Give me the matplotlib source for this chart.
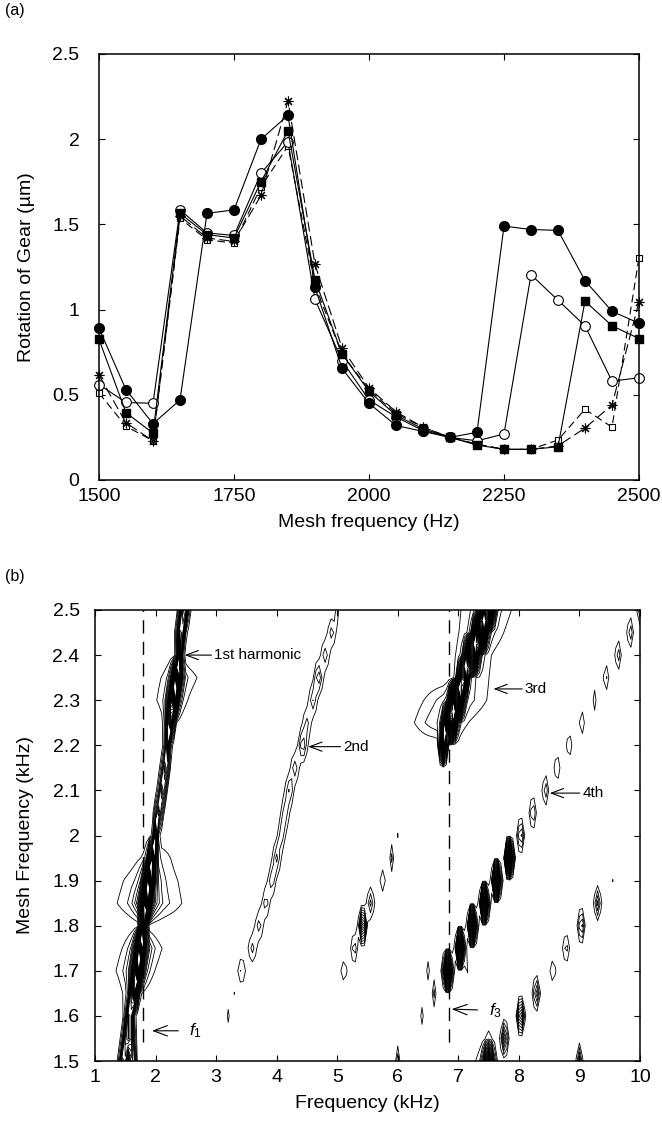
import numpy as np
import matplotlib

matplotlib.use("Agg")
import matplotlib.pyplot as plt
from matplotlib.ticker import FormatStrFormatter

plt.rcParams["font.family"] = ["Liberation Sans", "DejaVu Sans"]
plt.rcParams["mathtext.fontset"] = "custom"
plt.rcParams["mathtext.it"] = "Liberation Sans:italic"
plt.rcParams["mathtext.rm"] = "Liberation Sans"

# ---- (a) gear rotation vs mesh frequency ----
mesh_hz = [1500, 1550, 1600, 1650, 1700, 1750, 1800, 1850, 1900, 1950, 2000,
           2050, 2100, 2150, 2200, 2250, 2300, 2350, 2400, 2450, 2500]
filled_circle = [0.89, 0.53, 0.33, 0.47, 1.565, 1.585, 2.00, 2.14, 1.13, 0.655, 0.45,
                 0.32, 0.285, 0.25, 0.28, 1.49, 1.47, 1.465, 1.17, 0.99, 0.92]
open_circle = [0.56, 0.455, 0.45, 1.585, 1.45, 1.435, 1.80, 1.985, 1.06, 0.70, 0.47,
               0.37, 0.29, 0.25, 0.23, 0.27, 1.205, 1.055, 0.905, 0.58, 0.60]
filled_square = [0.825, 0.395, 0.275, 1.565, 1.44, 1.42, 1.75, 2.05, 1.175, 0.74, 0.52,
                 0.38, 0.30, 0.25, 0.205, 0.18, 0.18, 0.195, 1.05, 0.905, 0.83]
open_square = [0.51, 0.315, 0.23, 1.535, 1.41, 1.39, 1.72, 1.96, 1.14, 0.74, 0.53,
               0.39, 0.31, 0.25, 0.21, 0.18, 0.18, 0.235, 0.415, 0.31, 1.305]
asterisk = [0.615, 0.335, 0.23, 1.55, 1.42, 1.40, 1.67, 2.225, 1.265, 0.775, 0.54,
            0.40, 0.31, 0.25, 0.21, 0.18, 0.18, 0.20, 0.305, 0.44, 1.045]

# ---- (b) spectral peaks: (mesh kHz, frequency kHz, amplitude, width kHz) ----
h1_core = [(1.50, 1.47, 14, .04), (1.50, 1.62, 10, .035), (1.55, 1.52, 14, .04),
           (1.55, 1.60, 10, .035), (1.60, 1.57, 16, .04), (1.65, 1.64, 22, .04),
           (1.70, 1.70, 30, .045), (1.75, 1.75, 30, .045), (1.80, 1.80, 40, .025),
           (1.85, 1.84, 32, .045), (1.90, 1.89, 30, .045), (1.95, 1.94, 22, .04),
           (2.00, 2.00, 14, .025), (2.05, 2.05, 9, .04), (2.10, 2.11, 9, .04),
           (2.15, 2.16, 9, .04), (2.20, 2.20, 11, .03), (2.25, 2.24, 16, .04),
           (2.30, 2.29, 25, .045), (2.35, 2.35, 25, .045), (2.40, 2.40, 22, .025),
           (2.45, 2.42, 16, .04), (2.50, 2.47, 16, .045)]
h1_lobes = [(1.65, 1.60, 2.0, .12), (1.70, 1.66, 2.5, .23), (1.70, 1.70, 5, .10),
            (1.75, 1.78, 2.5, .24), (1.75, 1.76, 5, .10), (1.85, 1.90, 3.0, .36),
            (1.85, 1.85, 6, .12), (1.90, 1.92, 2.5, .33), (1.90, 1.90, 5, .10),
            (1.95, 2.00, 2.0, .21), (2.25, 2.22, 1.5, .08), (2.30, 2.27, 2.0, .21),
            (2.30, 2.30, 4, .08), (2.35, 2.39, 2.0, .25), (2.35, 2.35, 4, .08)]
h2 = [(1.60, 3.20, 1.4, .02), (1.65, 3.30, 1.05, .02), (1.70, 3.42, 2.2, .05),
      (1.75, 3.60, 2.5, .05), (1.80, 3.71, 2.6, .05), (1.85, 3.82, 2.6, .05),
      (1.90, 3.92, 2.8, .05), (1.95, 4.00, 3.5, .045), (2.00, 4.08, 2.6, .05),
      (2.05, 4.14, 2.8, .05), (2.10, 4.21, 3.2, .05), (2.15, 4.30, 2.8, .05),
      (2.20, 4.43, 4.0, .05), (2.25, 4.50, 2.4, .055), (2.30, 4.60, 3.0, .05),
      (2.35, 4.69, 4.0, .05), (2.40, 4.80, 2.8, .05), (2.45, 4.91, 2.6, .05),
      (2.50, 5.00, 2.0, .02)]
h3 = [(1.70, 5.11, 1.7, .05), (1.75, 5.28, 3.0, .035), (1.80, 5.42, 12, .035),
      (1.85, 5.55, 3.5, .04), (1.90, 5.75, 1.9, .04), (1.95, 5.90, 2.5, .02),
      (2.00, 6.00, 1.1, .02),
      (2.20, 6.75, 30, .03), (2.25, 6.86, 45, .06), (2.25, 6.72, 3.0, .30),
      (2.30, 6.97, 50, .06), (2.30, 6.95, 3.0, .35), (2.35, 7.08, 30, .05),
      (2.35, 7.27, 2.0, .20), (2.40, 7.22, 45, .06), (2.40, 7.25, 3.0, .20),
      (2.45, 7.36, 50, .06), (2.45, 7.38, 3.0, .25), (2.50, 7.48, 45, .06),
      (2.50, 7.46, 3.0, .28)]
h4 = [(1.50, 6.00, 3.0, .02), (1.60, 6.40, 1.6, .02), (1.65, 6.60, 2.5, .02),
      (1.70, 6.50, 1.7, .02), (1.70, 6.75, 2.0, .02), (1.70, 6.83, 50, .032),
      (1.70, 7.15, 1.1, .02), (1.75, 7.03, 50, .032), (1.80, 7.23, 50, .032),
      (1.85, 7.43, 50, .032), (1.90, 7.63, 50, .032), (1.95, 7.84, 40, .032),
      (2.00, 8.03, 5.0, .035), (2.05, 8.23, 3.5, .035), (2.10, 8.44, 3.0, .035),
      (2.15, 8.63, 2.2, .035), (2.20, 8.83, 2.0, .035), (2.25, 9.04, 2.0, .035),
      (2.30, 9.25, 1.8, .02), (2.35, 9.44, 2.2, .035), (2.40, 9.64, 2.8, .035),
      (2.45, 9.84, 3.0, .035), (2.50, 10.0, 3.0, .035)]
h5 = [(1.50, 7.50, 20, .05), (1.50, 7.45, 2.5, .12), (1.55, 7.50, 1.5, .06),
      (1.55, 7.76, 7.0, .035), (1.60, 8.03, 10, .035), (1.65, 8.29, 5.0, .035),
      (1.70, 8.56, 1.8, .045), (1.75, 8.78, 2.6, .04), (1.80, 9.03, 5.0, .035),
      (1.85, 9.30, 4.5, .035), (1.90, 9.55, 1.05, .02), (1.50, 9.00, 5.0, .03)]

f1_khz = 1.80
f3_khz = 6.85

mesh_rows = np.round(np.arange(1.5, 2.5001, 0.05), 2)
freq_grid = np.round(np.arange(1.0, 10.0001, 0.05), 2)

fig = plt.figure(figsize=(6.62, 11.31), dpi=100)

# ---------------- panel (a) ----------------
ax_a = fig.add_axes([99 / 662, 1 - 480 / 1131, 540 / 662, 426 / 1131])
line_kw = dict(color="k", linewidth=0.8, clip_on=False)
ax_a.plot(mesh_hz, open_square, linestyle=(0, (7, 4)), marker="s", markersize=5,
          markerfacecolor="white", markeredgewidth=0.8, **line_kw)
ax_a.plot(mesh_hz, asterisk, linestyle=(0, (9, 4)), marker=(8, 2, 0), markersize=7,
          markeredgewidth=0.8, **line_kw)
ax_a.plot(mesh_hz, open_circle, linestyle="-", marker="o", markersize=7,
          markerfacecolor="white", markeredgewidth=0.8, **line_kw)
ax_a.plot(mesh_hz, filled_square, linestyle="-", marker="s", markersize=5.5, **line_kw)
ax_a.plot(mesh_hz, filled_circle, linestyle="-", marker="o", markersize=7, **line_kw)

ax_a.set_xlim(1500, 2500)
ax_a.set_ylim(0, 2.5)
ax_a.set_xticks([1500, 1750, 2000, 2250, 2500])
ax_a.set_yticks([0, 0.5, 1, 1.5, 2, 2.5])
ax_a.yaxis.set_major_formatter(FormatStrFormatter("%g"))
ax_a.set_xlabel("Mesh frequency (Hz)", fontsize=14, labelpad=6)
ax_a.set_ylabel("Rotation of Gear (\u00b5m)", fontsize=14)
ax_a.yaxis.set_label_coords(-0.118, 0.5)
ax_a.tick_params(axis="x", pad=6)
ax_a.tick_params(axis="y", pad=14)

# ---------------- panel (b) ----------------
ax_b = fig.add_axes([95 / 662, 1 - 1061 / 1131, 545 / 662, 451 / 1131])

field = np.zeros((len(mesh_rows), len(freq_grid)))
for group in (h1_core, h1_lobes, h2, h3, h4, h5):
    for m, f0, amp, width in group:
        row = int(np.argmin(np.abs(mesh_rows - m)))
        field[row] += amp * np.exp(-0.5 * ((freq_grid - f0) / width) ** 2)

ax_b.contour(freq_grid, mesh_rows, field, levels=np.arange(1, 51),
             colors="k", linewidths=0.6)

for fx in (f1_khz, f3_khz):
    ax_b.plot([fx, fx], [1.543, 2.5], color="k", linewidth=1.0,
              linestyle=(0, (9.5, 6)))

arrow = dict(arrowstyle="->,head_length=0.8,head_width=0.3", color="k",
             linewidth=0.8, shrinkA=0, shrinkB=0)
note_kw = dict(fontsize=11, va="center", ha="left")
ax_b.annotate("1st harmonic", xy=(2.48, 2.40), xytext=(2.97, 2.40),
              arrowprops=arrow, **note_kw)
ax_b.annotate("2nd", xy=(4.52, 2.197), xytext=(5.10, 2.197),
              arrowprops=arrow, **note_kw)
ax_b.annotate("3rd", xy=(7.58, 2.325), xytext=(8.10, 2.325),
              arrowprops=arrow, **note_kw)
ax_b.annotate("4th", xy=(8.51, 2.094), xytext=(9.05, 2.094),
              arrowprops=arrow, **note_kw)
arrow_gap = dict(arrow, shrinkA=6)
ax_b.annotate(r"$f_1$", xy=(1.94, 1.567), xytext=(2.56, 1.567),
              arrowprops=arrow_gap, fontsize=12.5, va="center", ha="left")
ax_b.annotate(r"$f_3$", xy=(6.89, 1.615), xytext=(7.50, 1.612),
              arrowprops=arrow_gap, fontsize=12.5, va="center", ha="left")

ax_b.set_xlim(1, 10)
ax_b.set_ylim(1.5, 2.5)
ax_b.set_xticks(range(1, 11))
ax_b.set_yticks(np.round(np.arange(1.5, 2.5001, 0.1), 1))
ax_b.yaxis.set_major_formatter(FormatStrFormatter("%g"))
ax_b.set_xlabel("Frequency (kHz)", fontsize=14, labelpad=6)
ax_b.set_ylabel("Mesh Frequency (kHz)", fontsize=14)
ax_b.yaxis.set_label_coords(-0.112, 0.5)
ax_b.tick_params(axis="x", pad=6)
ax_b.tick_params(axis="y", pad=11)

for ax in (ax_a, ax_b):
    ax.tick_params(direction="in", top=True, right=True, length=4, width=0.8,
                   labelsize=14)
    for sp in ax.spines.values():
        sp.set_linewidth(1.1)

fig.text(5 / 662, 1 - 11 / 1131, "(a)", fontsize=11.5, va="center", ha="left")
fig.text(5 / 662, 1 - 577 / 1131, "(b)", fontsize=11.5, va="center", ha="left")

fig.savefig("out.png", dpi=100)
